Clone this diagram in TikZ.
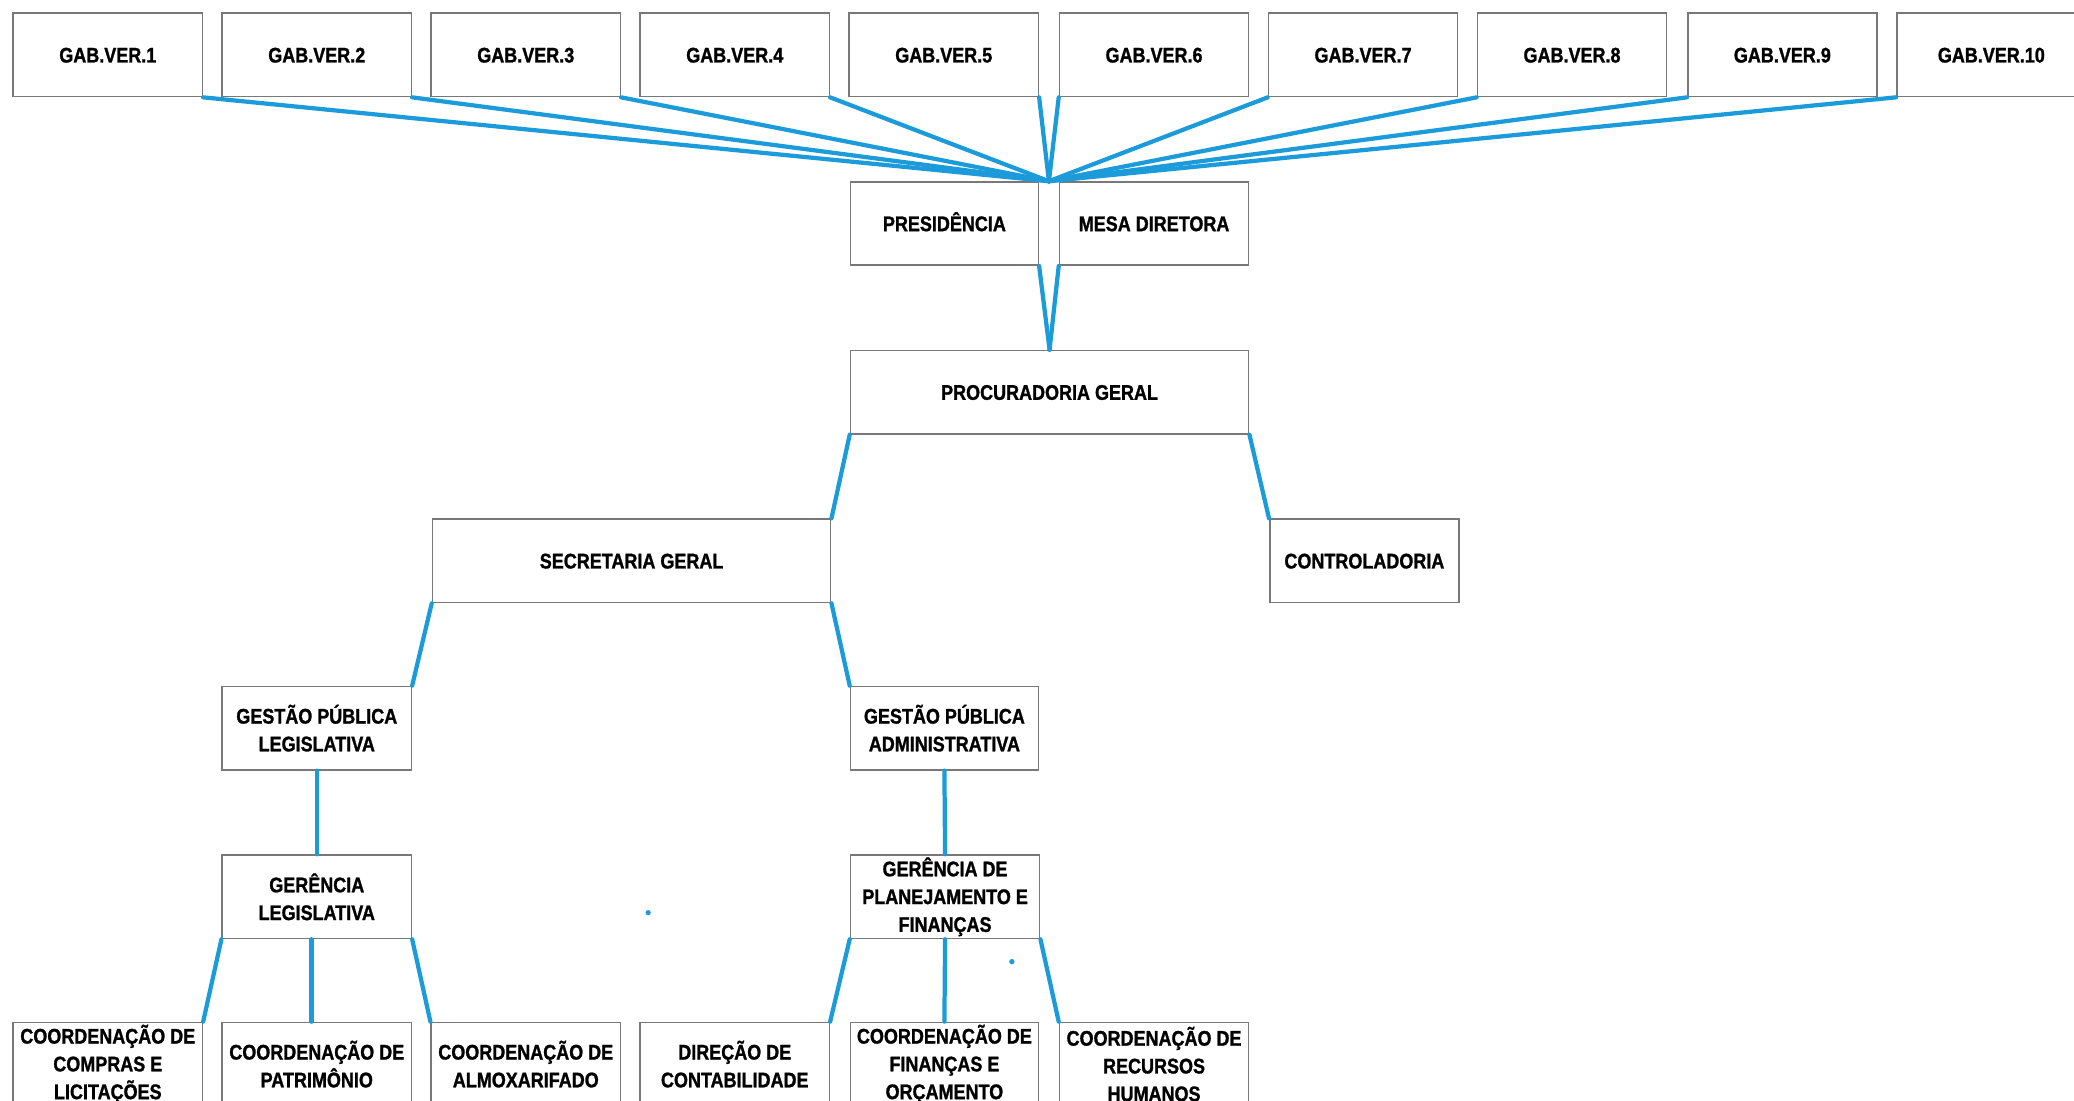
\documentclass[tikz,border=0pt]{standalone}
\usepackage{fontspec}
\setmainfont[FakeStretch=0.85,BoldFeatures={FakeBold=1.2}]{Liberation Sans}
\definecolor{conn}{RGB}{27,155,218}
\definecolor{frame}{RGB}{120,120,120}
\begin{document}
\begin{tikzpicture}[x=1pt,y=-1pt,
  box/.style={draw=frame, line width=1.2pt, fill=white, minimum width=143pt, minimum height=63pt,
    inner sep=0pt, align=center, font=\fontsize{16}{21}\selectfont\bfseries},
  one/.style={text height=13pt, text depth=1.5pt},
  widebox/.style={box, minimum width=301pt},
  link/.style={draw=conn, line width=3.2pt, line cap=round},
  dot/.style={fill=conn, circle, inner sep=0pt, minimum size=4pt}]
\useasboundingbox (0,0) rectangle (1568,832);
% top row
\node[box,one] (g1) at (81.5,41.5) {GAB.VER.1};
\node[box,one] (g2) at (239.5,41.5) {GAB.VER.2};
\node[box,one] (g3) at (397.5,41.5) {GAB.VER.3};
\node[box,one] (g4) at (555.5,41.5) {GAB.VER.4};
\node[box,one] (g5) at (713.5,41.5) {GAB.VER.5};
\node[box,one] (g6) at (872.5,41.5) {GAB.VER.6};
\node[box,one] (g7) at (1030.5,41.5) {GAB.VER.7};
\node[box,one] (g8) at (1188.5,41.5) {GAB.VER.8};
\node[box,one] (g9) at (1347.5,41.5) {GAB.VER.9};
\node[box,one] (g10) at (1505.5,41.5) {GAB.VER.10};
% second row
\node[box,one, minimum width=142pt] (pres) at (714,169) {PRESIDÊNCIA};
\node[box,one] (mesa) at (872.5,169) {MESA DIRETORA};
\coordinate (hub) at (793,137);
% procuradoria
\node[widebox,one] (proc) at (793.5,296.5) {PROCURADORIA GERAL};
\node[widebox,one] (sec) at (477.5,424) {SECRETARIA GERAL};
\node[box,one] (ctrl) at (1031.5,424) {CONTROLADORIA};
\node[box] (gpl) at (239.5,550.5) {GESTÃO PÚBLICA\\LEGISLATIVA};
\node[box, minimum width=142pt] (gpa) at (714,550.5) {GESTÃO PÚBLICA\\ADMINISTRATIVA};
\node[box] (gl) at (239.5,678) {GERÊNCIA\\LEGISLATIVA};
\node[box] (gpf) at (714.5,678) {GERÊNCIA DE\\PLANEJAMENTO E\\FINANÇAS};
% bottom row
\node[box] (comp) at (81.5,804.5) {COORDENAÇÃO DE\\COMPRAS E\\LICITAÇÕES};
\node[box] (patr) at (239.5,804.5) {COORDENAÇÃO DE\\PATRIMÔNIO};
\node[box] (almo) at (397.5,804.5) {COORDENAÇÃO DE\\ALMOXARIFADO};
\node[box] (cont) at (555.5,804.5) {DIREÇÃO DE\\CONTABILIDADE};
\node[box, minimum width=142pt] (fin) at (714,804.5) {COORDENAÇÃO DE\\FINANÇAS E\\ORÇAMENTO};
\node[box] (rh) at (872.5,804.5) {COORDENAÇÃO DE\\RECURSOS\\HUMANOS};
% connectors
\foreach \g in {g1,g2,g3,g4,g5} \draw[link] (\g.south east) -- (hub);
\foreach \g in {g6,g7,g8,g9,g10} \draw[link] (\g.south west) -- (hub);
\draw[link] (pres.south east) -- (proc.north);
\draw[link] (mesa.south west) -- (proc.north);
\draw[link] (proc.south west) -- (sec.north east);
\draw[link] (proc.south east) -- (ctrl.north west);
\draw[link] (sec.south west) -- (gpl.north east);
\draw[link] (sec.south east) -- (gpa.north west);
\draw[link] (gpl.south) -- (gl.north);
\draw[link] (gpa.south) -- (gpf.north);
\draw[link] (gl.south west) -- (comp.north east);
\draw[link] ([xshift=-4pt]gl.south) -- ([xshift=-4pt]patr.north);
\draw[link] (gl.south east) -- (almo.north west);
\draw[link] (gpf.south west) -- (cont.north east);
\draw[link] (gpf.south) -- (fin.north);
\draw[link] (gpf.south east) -- (rh.north west);
% stray dots
\node[dot] (d1) at (490,690) {};
\node[dot] (d2) at (765,727) {};
\end{tikzpicture}
\end{document}
